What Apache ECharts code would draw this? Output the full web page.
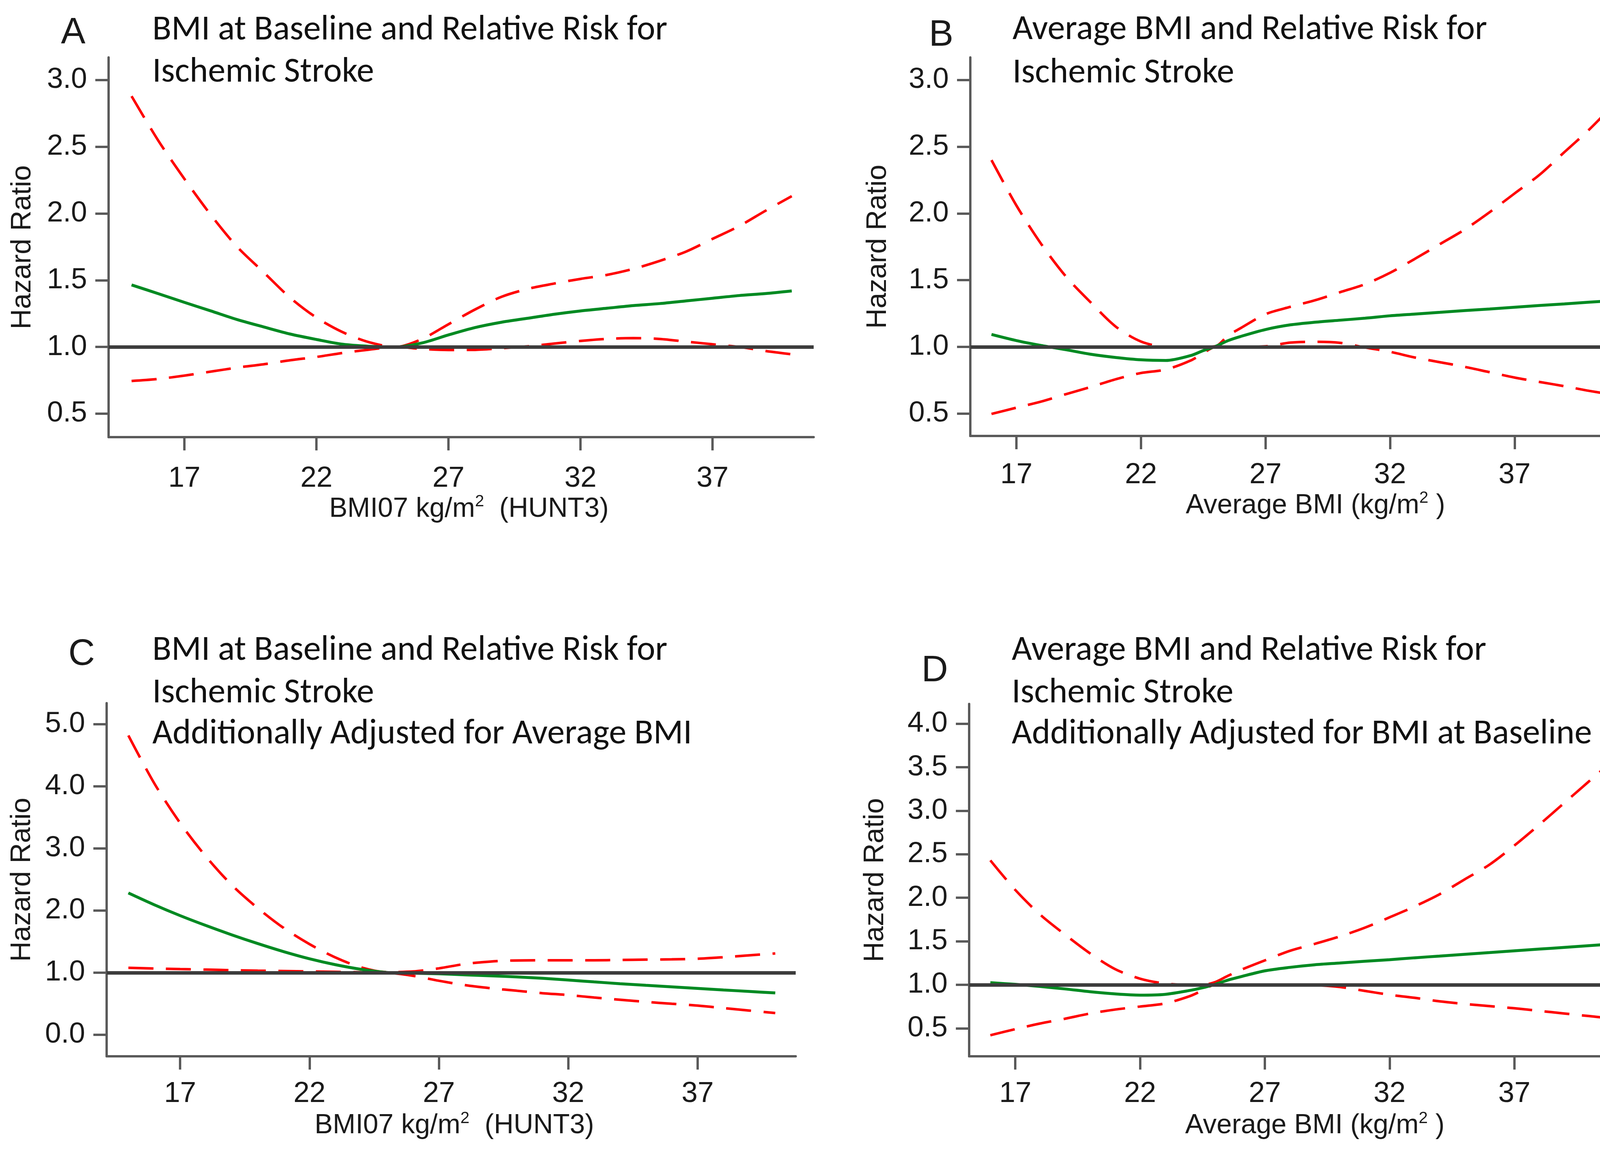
<!DOCTYPE html>
<html>
<head>
<meta charset="utf-8">
<script src="https://cdn.jsdelivr.net/npm/echarts@6/dist/echarts.min.js"></script>
<style>
  html, body { margin: 0; padding: 0; background: #ffffff; }
  #chart { width: 4304px; height: 2949px; }
</style>
</head>
<body>
<div id="chart"></div>
<script>
// ---------------- DATA ----------------
// Panel A: BMI at baseline (BMI07, HUNT3)
const bmiA = [15,16,17,18,19,20,21,22,23,24,25,26,27,28,29,30,31,32,33,34,35,36,37,38,39,40];
const hrA  = [1.465,1.40,1.334,1.27,1.205,1.15,1.097,1.056,1.02,1.005,1.0,1.03,1.09,1.145,1.185,1.215,1.245,1.27,1.29,1.31,1.325,1.345,1.365,1.385,1.40,1.42];
const upA  = [2.88,2.55,2.26,1.99,1.75,1.56,1.37,1.22,1.11,1.035,1.0,1.06,1.17,1.28,1.375,1.435,1.475,1.51,1.54,1.585,1.645,1.715,1.81,1.905,2.02,2.13];
const loA  = [0.745,0.76,0.785,0.815,0.845,0.87,0.90,0.925,0.955,0.98,1.0,0.985,0.977,0.978,0.99,1.005,1.025,1.045,1.06,1.066,1.06,1.04,1.02,1.0,0.97,0.945];

// Panel B: Average BMI
const bmiB = [16,17,18,19,20,21,22,23,24,24.5,25,25.5,26,27,28,29,30,31,32,33,34,35,36,37,38,39,40,41,42];
const hrB  = [1.093,1.047,1.01,0.978,0.944,0.92,0.903,0.898,0.935,0.972,1.004,1.047,1.078,1.13,1.165,1.185,1.20,1.215,1.233,1.246,1.259,1.272,1.284,1.297,1.31,1.322,1.335,1.347,1.36];
const upB  = [2.40,2.06,1.77,1.525,1.33,1.15,1.04,1.0,0.998,1.0,1.005,1.085,1.14,1.245,1.30,1.35,1.41,1.47,1.555,1.66,1.77,1.88,2.01,2.15,2.29,2.46,2.63,2.82,3.01];
const loB  = [0.497,0.544,0.59,0.646,0.70,0.758,0.804,0.83,0.898,0.953,1.0,1.0,1.0,1.004,1.032,1.038,1.03,0.995,0.963,0.92,0.885,0.85,0.81,0.77,0.737,0.705,0.67,0.64,0.614];

// Panel C: BMI at baseline, additionally adjusted for average BMI
const bmiC = [15,16,17,18,19,20,21,22,23,24,25,26,27,28,29,30,31,32,33,34,35,36,37,38,39,40];
const hrC  = [2.284,2.094,1.919,1.759,1.609,1.469,1.339,1.224,1.129,1.054,1.004,0.992,0.982,0.966,0.95,0.932,0.91,0.882,0.852,0.823,0.797,0.772,0.747,0.722,0.698,0.674];
const upC  = [4.82,4.05,3.41,2.87,2.41,2.04,1.72,1.46,1.245,1.085,1.01,1.02,1.07,1.14,1.18,1.197,1.2,1.2,1.2,1.205,1.21,1.215,1.225,1.25,1.28,1.31];
const loC  = [1.078,1.068,1.058,1.05,1.04,1.033,1.027,1.02,1.014,1.008,1.0,0.95,0.87,0.80,0.75,0.71,0.67,0.64,0.60,0.565,0.53,0.50,0.47,0.43,0.39,0.35];

// Panel D: Average BMI, additionally adjusted for BMI at baseline
const bmiD = [16,17,18,19,20,21,22,23,24,24.5,25,25.5,26,27,28,29,30,31,32,33,34,35,36,37,38,39,40,41,42];
const hrD  = [1.024,1.005,0.98,0.952,0.92,0.895,0.881,0.89,0.935,0.965,1.005,1.052,1.09,1.16,1.20,1.23,1.25,1.27,1.288,1.31,1.33,1.35,1.37,1.39,1.41,1.43,1.45,1.47,1.49];
const upD  = [2.43,2.09,1.805,1.575,1.36,1.18,1.07,1.014,1.0,1.0,1.03,1.10,1.166,1.28,1.39,1.47,1.555,1.655,1.775,1.90,2.04,2.21,2.38,2.60,2.84,3.09,3.34,3.59,3.85];
const loD  = [0.42,0.49,0.555,0.61,0.67,0.715,0.75,0.785,0.87,0.935,1.0,1.0,1.0,1.0,1.0,0.995,0.975,0.93,0.885,0.85,0.81,0.78,0.755,0.73,0.70,0.67,0.64,0.61,0.585];

// Tick labels
const xTicks = [17, 22, 27, 32, 37];
const yTicksAB = [0.5, 1.0, 1.5, 2.0, 2.5, 3.0];
const yTicksC = [0, 1, 2, 3, 4, 5];
const yTicksD = [0.5, 1.0, 1.5, 2.0, 2.5, 3.0, 3.5, 4.0];

// Texts
const letters = ['A', 'B', 'C', 'D'];
const titleA = ['BMI at Baseline and Relative Risk for', 'Ischemic Stroke'];
const titleB = ['Average BMI and Relative Risk for', 'Ischemic Stroke'];
const titleC = ['BMI at Baseline and Relative Risk for', 'Ischemic Stroke', 'Additionally Adjusted for Average BMI'];
const titleD = ['Average BMI and Relative Risk for', 'Ischemic Stroke', 'Additionally Adjusted for BMI at Baseline'];
const xNameBase = 'BMI07 kg/m{s|2}  (HUNT3)';
const xNameAvg = 'Average BMI (kg/m{s|2} )';
const yName = 'Hazard Ratio';

// ---------------- FONTS ----------------
const ctx = document.createElement('canvas').getContext('2d');
function w(font, text) { ctx.font = font; return ctx.measureText(text).width; }
function has(family) {
  const t = 'BMI at Baseline 0123456789';
  return w('100px "' + family + '", monospace', t) !== w('100px monospace', t);
}
const TITLE_FAM = has('Carlito') ? '"Carlito", "Lato", sans-serif' : '"Lato", sans-serif';
const TITLE_SIZE = 100 * 1318 / w('100px ' + TITLE_FAM, titleA[0]);
const NARROW = has('Liberation Sans Narrow');
const TICK_FAM = NARROW ? '"Liberation Sans Narrow", "Liberation Sans", sans-serif' : '"Liberation Sans", Arial, sans-serif';
const TICK_SIZE = NARROW ? 77 : 74;
const LAB_FAM = '"Liberation Sans", Arial, sans-serif';

const TXT = '#1a1a1a';
const AXIS = '#5a5a5a';
const GREEN = '#008a22';
const RED = '#ff0000';

// ---------------- LAYOUT ----------------
const panels = [
  { grid: { left: 278, top: 147, width: 1805, height: 972 }, xmin: 14.13, xmax: 40.83, ymin: 0.324, ymax: 3.17,
    yTicks: yTicksAB, xName: xNameBase, xNamePad: 40, xMargin: 70, yGap: 184, bmi: bmiA, hr: hrA, up: upA, lo: loA },
  { grid: { left: 2484, top: 147, width: 1767, height: 969 }, xmin: 15.15, xmax: 42.86, ymin: 0.332, ymax: 3.17,
    yTicks: yTicksAB, xName: xNameAvg, xNamePad: 0, xMargin: 64, yGap: 200, bmi: bmiB, hr: hrB, up: upB, lo: loB },
  { grid: { left: 273, top: 1800, width: 1764, height: 904 }, xmin: 14.16, xmax: 40.79, ymin: -0.346, ymax: 5.34,
    yTicks: yTicksC, xName: xNameBase, xNamePad: 16, xMargin: 60, yGap: 180, bmi: bmiC, hr: hrC, up: upC, lo: loC },
  { grid: { left: 2481, top: 1802, width: 1770, height: 902 }, xmin: 15.15, xmax: 42.86, ymin: 0.178, ymax: 4.228,
    yTicks: yTicksD, xName: xNameAvg, xNamePad: 0, xMargin: 60, yGap: 204, bmi: bmiD, hr: hrD, up: upD, lo: loD }
];

const grids = [], xAxes = [], yAxes = [], series = [];
panels.forEach((p, i) => {
  grids.push(Object.assign({ containLabel: false }, p.grid));
  xAxes.push({
    type: 'value', gridIndex: i, min: p.xmin, max: p.xmax,
    axisLine: { show: true, onZero: false, lineStyle: { color: AXIS, width: 6 } },
    axisTick: { show: true, inside: false, length: 34, customValues: xTicks, lineStyle: { color: AXIS, width: 6 } },
    axisLabel: { show: true, customValues: xTicks, margin: p.xMargin, fontFamily: TICK_FAM, fontSize: TICK_SIZE, color: TXT },
    splitLine: { show: false },
    name: p.xName, nameLocation: 'middle', nameGap: 138,
    nameTextStyle: { fontFamily: LAB_FAM, fontSize: 70, color: TXT, lineHeight: 80,
      padding: [0, 0, 0, p.xNamePad],
      rich: { s: { fontFamily: LAB_FAM, fontSize: 42, lineHeight: 80, verticalAlign: 'top', padding: [0, 0, 30, 0], color: TXT } } }
  });
  yAxes.push({
    type: 'value', gridIndex: i, min: p.ymin, max: p.ymax,
    axisLine: { show: true, onZero: false, lineStyle: { color: AXIS, width: 6 } },
    axisTick: { show: true, inside: false, length: 34, customValues: p.yTicks, lineStyle: { color: AXIS, width: 6 } },
    axisLabel: { show: true, customValues: p.yTicks, margin: 55, fontFamily: TICK_FAM, fontSize: TICK_SIZE, color: TXT,
      formatter: v => Number(v).toFixed(1) },
    splitLine: { show: false },
    name: yName, nameLocation: 'middle', nameGap: p.yGap, nameRotate: 90,
    nameTextStyle: { fontFamily: LAB_FAM, fontSize: 72, color: TXT }
  });
  // reference line HR = 1
  series.push({
    type: 'line', xAxisIndex: i, yAxisIndex: i, data: [], z: 1, silent: true,
    markLine: { silent: true, symbol: ['none', 'none'], label: { show: false },
      lineStyle: { color: '#3c3c3c', width: 9, type: 'solid' }, data: [{ yAxis: 1 }], animation: false }
  });
  const mk = (arr) => p.bmi.map((x, k) => [x, arr[k]]);
  series.push({ type: 'line', xAxisIndex: i, yAxisIndex: i, data: mk(p.up), smooth: 0.3, showSymbol: false, z: 3,
    lineStyle: { color: RED, width: 6.5, type: [64, 32] } });
  series.push({ type: 'line', xAxisIndex: i, yAxisIndex: i, data: mk(p.lo), smooth: 0.3, showSymbol: false, z: 3,
    lineStyle: { color: RED, width: 6.5, type: [64, 32] } });
  series.push({ type: 'line', xAxisIndex: i, yAxisIndex: i, data: mk(p.hr), smooth: 0.3, showSymbol: false, z: 4,
    lineStyle: { color: GREEN, width: 7.5, type: 'solid' } });
});

// ---------------- TEXT GRAPHICS ----------------
const graphics = [];
const LET_SIZE = 94;
const letterPos = [[156, 118], [2378, 124], [175, 1709], [2359, 1751]];
letters.forEach((L, i) => {
  graphics.push({ type: 'text', x: letterPos[i][0], y: letterPos[i][1] - 0.3465 * LET_SIZE,
    style: { text: L, font: LET_SIZE + 'px ' + LAB_FAM, fill: TXT, verticalAlign: 'middle', textAlign: 'left' } });
});
const K = 0.23; // baseline -> em-middle factor
function addTitle(lines, x, baselines) {
  lines.forEach((t, j) => {
    graphics.push({ type: 'text', x: x, y: baselines[j] - K * TITLE_SIZE,
      style: { text: t, font: TITLE_SIZE.toFixed(1) + 'px ' + TITLE_FAM, fill: '#111', verticalAlign: 'middle', textAlign: 'left' } });
  });
}
addTitle(titleA, 390, [99, 207]);
addTitle(titleB, 2592, [98, 209]);
addTitle(titleC, 390, [1687, 1796, 1901]);
addTitle(titleD, 2590, [1687, 1796, 1901]);

const chart = echarts.init(document.getElementById('chart'), null, { renderer: 'canvas', width: 4304, height: 2949, devicePixelRatio: 1 });
chart.setOption({
  animation: false,
  backgroundColor: '#ffffff',
  grid: grids, xAxis: xAxes, yAxis: yAxes, series: series,
  graphic: graphics
});
</script>
</body>
</html>
